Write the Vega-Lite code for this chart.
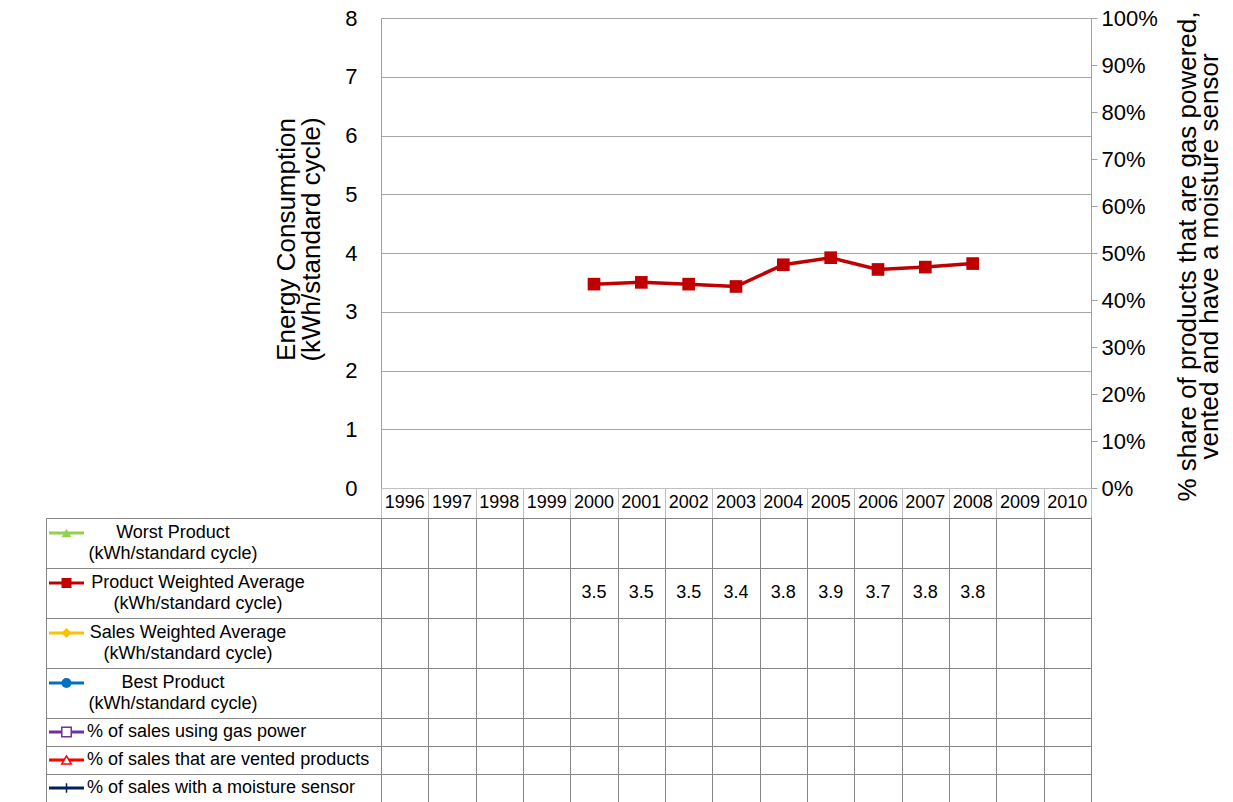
{
  "$schema": "https://vega.github.io/schema/vega-lite/v6.json",
  "padding": {"left": 45, "top": 6, "right": 0, "bottom": 0},
  "config": {"font": "Liberation Sans", "axis": {"labelColor": "black", "titleColor": "black"}},
  "datasets": {
    "main": [
      {"year": "2000", "series": "Product Weighted Average", "value": 3.47},
      {"year": "2001", "series": "Product Weighted Average", "value": 3.50},
      {"year": "2002", "series": "Product Weighted Average", "value": 3.47},
      {"year": "2003", "series": "Product Weighted Average", "value": 3.43},
      {"year": "2004", "series": "Product Weighted Average", "value": 3.80},
      {"year": "2005", "series": "Product Weighted Average", "value": 3.92},
      {"year": "2006", "series": "Product Weighted Average", "value": 3.72},
      {"year": "2007", "series": "Product Weighted Average", "value": 3.76},
      {"year": "2008", "series": "Product Weighted Average", "value": 3.82}
    ],
    "years": [
      {"year": "1996"}, {"year": "1997"}, {"year": "1998"}, {"year": "1999"}, {"year": "2000"},
      {"year": "2001"}, {"year": "2002"}, {"year": "2003"}, {"year": "2004"}, {"year": "2005"},
      {"year": "2006"}, {"year": "2007"}, {"year": "2008"}, {"year": "2009"}, {"year": "2010"}
    ],
    "series": [
      {"series": "Worst Product", "label": "Worst Product\n(kWh/standard cycle)"},
      {"series": "Product Weighted Average", "label": "Product Weighted  Average\n(kWh/standard cycle)"},
      {"series": "Sales Weighted Average", "label": "Sales Weighted  Average\n(kWh/standard cycle)"},
      {"series": "Best Product", "label": "Best Product\n(kWh/standard cycle)"},
      {"series": "% of sales using gas power", "label": "% of sales  using gas power"},
      {"series": "% of sales that are vented products", "label": "% of sales  that are vented products"},
      {"series": "% of sales with a moisture sensor", "label": "% of sales  with a moisture sensor"}
    ]
  },
  "columns": 2,
  "spacing": 0,
  "bounds": "flush",
  "align": "each",
  "concat": [
    {
      "width": 335, "height": 470,
      "view": {"stroke": null},
      "data": {"values": [{}]},
      "mark": {"type": "point", "opacity": 0},
      "encoding": {}
    },
    {
      "width": 710, "height": 470,
      "view": {"stroke": "#a0a0a0"},
      "layer": [
        {
          "data": {"name": "main"},
          "encoding": {
            "x": {"field": "year", "type": "ordinal",
                  "scale": {"type": "band", "domain": ["1996","1997","1998","1999","2000","2001","2002","2003","2004","2005","2006","2007","2008","2009","2010"], "paddingInner": 0, "paddingOuter": 0},
                  "axis": null},
            "y": {"field": "value", "type": "quantitative",
                  "scale": {"domain": [0, 8]},
                  "axis": {"orient": "left", "values": [0,1,2,3,4,5,6,7,8], "grid": true, "gridColor": "#a6a6a6", "ticks": false, "domain": false,
                           "labelFontSize": 22, "labelPadding": 24,
                           "title": ["Energy Consumption", "(kWh/standard cycle)"], "titleFontSize": 26, "titleFontWeight": "normal", "titleLineHeight": 25, "titlePadding": 20, "titleY": 221}}
          },
          "layer": [
            {"mark": {"type": "line", "color": "#C00000", "strokeWidth": 3.5}},
            {"mark": {"type": "point", "shape": "square", "filled": true, "size": 160, "color": "#C00000", "opacity": 1}}
          ]
        },
        {
          "data": {"values": [{}]},
          "mark": {"type": "point", "opacity": 0},
          "encoding": {
            "y": {"datum": 0, "type": "quantitative",
                  "scale": {"domain": [0, 1]},
                  "axis": {"orient": "right", "values": [0,0.1,0.2,0.3,0.4,0.5,0.6,0.7,0.8,0.9,1], "format": ".0%", "grid": false,
                           "domain": true, "domainColor": "#a0a0a0", "tickColor": "#a0a0a0", "tickSize": 6, "labelPadding": 4, "labelFontSize": 22,
                           "title": ["% share of products that are gas powered,", "vented and have a moisture sensor"], "titleAngle": 270, "titleBaseline": "top",
                           "titleFontSize": 26, "titleFontWeight": "normal", "titleLineHeight": 22, "titleX": 83, "titleY": 238}}
          }
        }
      ],
      "resolve": {"scale": {"y": "independent"}}
    },
    {
      "width": 335, "height": 30,
      "view": {"stroke": null},
      "data": {"values": [{}]},
      "mark": {"type": "point", "opacity": 0},
      "encoding": {}
    },
    {
      "width": 710, "height": 30,
      "view": {"stroke": "#bfbfbf"},
      "data": {"name": "years"},
      "mark": {"type": "text", "fontSize": 18, "color": "black"},
      "encoding": {
        "x": {"field": "year", "type": "ordinal",
              "scale": {"type": "band", "domain": ["1996","1997","1998","1999","2000","2001","2002","2003","2004","2005","2006","2007","2008","2009","2010"], "paddingInner": 0, "paddingOuter": 0},
              "axis": {"orient": "top", "grid": true, "tickBand": "extent", "gridColor": "#bfbfbf", "labels": false, "ticks": false, "domain": false, "title": null}},
        "text": {"field": "year"}
      }
    },
    {
      "width": 335, "height": 200,
      "view": {"stroke": "#868686"},
      "data": {"name": "series"},
      "transform": [{"filter": {"field": "series", "oneOf": ["Worst Product", "Product Weighted Average", "Sales Weighted Average", "Best Product"]}}],
      "layer": [
        {
          "mark": {"type": "rule", "strokeWidth": 3},
          "encoding": {
            "x": {"value": 3}, "x2": {"value": 38},
            "y": {"field": "series", "type": "nominal", "bandPosition": 0.3,
                  "scale": {"type": "band", "domain": ["Worst Product", "Product Weighted Average", "Sales Weighted Average", "Best Product"], "paddingInner": 0, "paddingOuter": 0},
                  "axis": {"grid": true, "tickBand": "extent", "gridColor": "#868686", "labels": false, "ticks": false, "domain": false, "title": null}},
            "color": {"field": "series", "type": "nominal", "legend": null,
                      "scale": {"domain": ["Worst Product", "Product Weighted Average", "Sales Weighted Average", "Best Product", "% of sales using gas power", "% of sales that are vented products", "% of sales with a moisture sensor"], "range": ["#92D050", "#C00000", "#FFC000", "#0070C0", "#7030A0", "#FF0000", "#002060"]}}
          }
        },
        {
          "mark": {"type": "point", "filled": true, "size": 100, "opacity": 1},
          "encoding": {
            "x": {"value": 20.5},
            "y": {"field": "series", "type": "nominal", "bandPosition": 0.3},
            "shape": {"field": "series", "type": "nominal", "legend": null,
                      "scale": {"domain": ["Worst Product", "Product Weighted Average", "Sales Weighted Average", "Best Product", "% of sales using gas power", "% of sales that are vented products", "% of sales with a moisture sensor"], "range": ["triangle-up", "square", "diamond", "circle", "square", "triangle-up", "M0,-1L0,1"]}},
            "color": {"field": "series", "type": "nominal", "legend": null}
          }
        },
        {
          "transform": [{"filter": {"field": "series", "equal": "Worst Product"}}],
          "mark": {"type": "text", "fontSize": 18, "align": "center", "lineBreak": "\n", "lineHeight": 21, "color": "black", "x": 127},
          "encoding": {"y": {"field": "series", "type": "nominal", "bandPosition": 0.3}, "text": {"field": "label"}}
        },
        {
          "transform": [{"filter": {"field": "series", "equal": "Product Weighted Average"}}],
          "mark": {"type": "text", "fontSize": 18, "align": "center", "lineBreak": "\n", "lineHeight": 21, "color": "black", "x": 152},
          "encoding": {"y": {"field": "series", "type": "nominal", "bandPosition": 0.3}, "text": {"field": "label"}}
        },
        {
          "transform": [{"filter": {"field": "series", "equal": "Sales Weighted Average"}}],
          "mark": {"type": "text", "fontSize": 18, "align": "center", "lineBreak": "\n", "lineHeight": 21, "color": "black", "x": 142},
          "encoding": {"y": {"field": "series", "type": "nominal", "bandPosition": 0.3}, "text": {"field": "label"}}
        },
        {
          "transform": [{"filter": {"field": "series", "equal": "Best Product"}}],
          "mark": {"type": "text", "fontSize": 18, "align": "center", "lineBreak": "\n", "lineHeight": 21, "color": "black", "x": 127},
          "encoding": {"y": {"field": "series", "type": "nominal", "bandPosition": 0.3}, "text": {"field": "label"}}
        }
      ]
    },
    {
      "width": 710, "height": 200,
      "view": {"stroke": "#868686"},
      "data": {"name": "main"},
      "mark": {"type": "text", "fontSize": 18, "color": "black"},
      "encoding": {
        "x": {"field": "year", "type": "ordinal",
              "scale": {"type": "band", "domain": ["1996","1997","1998","1999","2000","2001","2002","2003","2004","2005","2006","2007","2008","2009","2010"], "paddingInner": 0, "paddingOuter": 0},
              "axis": {"grid": true, "tickBand": "extent", "gridColor": "#868686", "labels": false, "ticks": false, "domain": false, "title": null}},
        "y": {"field": "series", "type": "nominal",
              "scale": {"type": "band", "domain": ["Worst Product", "Product Weighted Average", "Sales Weighted Average", "Best Product"], "paddingInner": 0, "paddingOuter": 0},
              "axis": {"grid": true, "tickBand": "extent", "gridColor": "#868686", "labels": false, "ticks": false, "domain": false, "title": null}},
        "text": {"field": "value", "type": "quantitative", "format": ".1f"}
      }
    },
    {
      "width": 335, "height": 84,
      "view": {"stroke": "#868686"},
      "data": {"name": "series"},
      "transform": [{"filter": {"field": "series", "oneOf": ["% of sales using gas power", "% of sales that are vented products", "% of sales with a moisture sensor"]}}],
      "layer": [
        {
          "mark": {"type": "rule", "strokeWidth": 3},
          "encoding": {
            "x": {"value": 3}, "x2": {"value": 38},
            "y": {"field": "series", "type": "nominal", "bandPosition": 0.5,
                  "scale": {"type": "band", "domain": ["% of sales using gas power", "% of sales that are vented products", "% of sales with a moisture sensor"], "paddingInner": 0, "paddingOuter": 0},
                  "axis": {"grid": true, "tickBand": "extent", "gridColor": "#868686", "labels": false, "ticks": false, "domain": false, "title": null}},
            "color": {"field": "series", "type": "nominal", "legend": null}
          }
        },
        {
          "mark": {"type": "point", "filled": false, "size": 90, "opacity": 1, "strokeWidth": 1.5, "fill": "white"},
          "encoding": {
            "x": {"value": 20.5},
            "y": {"field": "series", "type": "nominal", "bandPosition": 0.5},
            "shape": {"field": "series", "type": "nominal", "legend": null},
            "color": {"field": "series", "type": "nominal", "legend": null}
          }
        },
        {
          "mark": {"type": "text", "fontSize": 18, "align": "left", "color": "black", "x": 41},
          "encoding": {"y": {"field": "series", "type": "nominal", "bandPosition": 0.5}, "text": {"field": "label"}}
        }
      ]
    },
    {
      "width": 710, "height": 84,
      "view": {"stroke": "#868686"},
      "data": {"name": "main"},
      "transform": [{"filter": {"field": "series", "oneOf": ["% of sales using gas power", "% of sales that are vented products", "% of sales with a moisture sensor"]}}],
      "mark": {"type": "text", "fontSize": 18, "color": "black"},
      "encoding": {
        "x": {"field": "year", "type": "ordinal",
              "scale": {"type": "band", "domain": ["1996","1997","1998","1999","2000","2001","2002","2003","2004","2005","2006","2007","2008","2009","2010"], "paddingInner": 0, "paddingOuter": 0},
              "axis": {"grid": true, "tickBand": "extent", "gridColor": "#868686", "labels": false, "ticks": false, "domain": false, "title": null}},
        "y": {"field": "series", "type": "nominal",
              "scale": {"type": "band", "domain": ["% of sales using gas power", "% of sales that are vented products", "% of sales with a moisture sensor"], "paddingInner": 0, "paddingOuter": 0},
              "axis": {"grid": true, "tickBand": "extent", "gridColor": "#868686", "labels": false, "ticks": false, "domain": false, "title": null}},
        "text": {"field": "value", "type": "quantitative", "format": ".1f"}
      }
    }
  ]
}
